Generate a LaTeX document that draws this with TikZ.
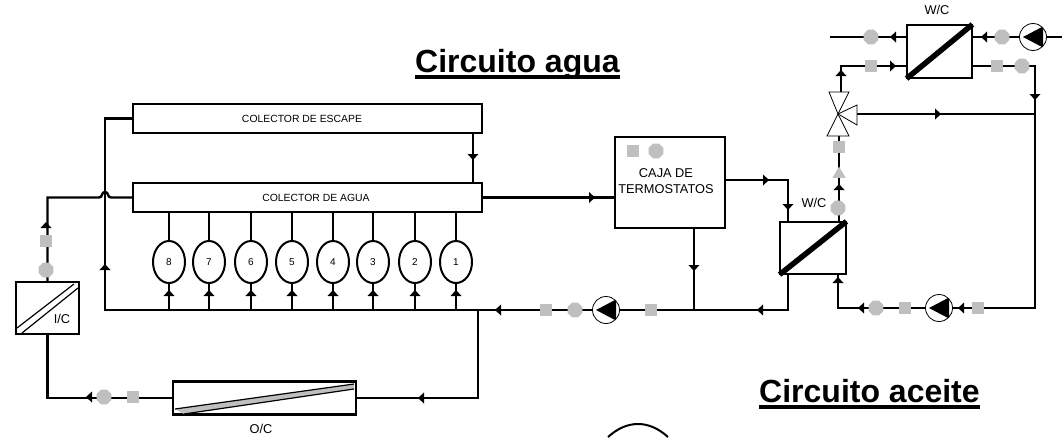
\documentclass[tikz,border=0pt]{standalone}
\usepackage{fontspec}
\setmainfont{Liberation Sans}
\usetikzlibrary{shapes.geometric}
\definecolor{omark}{HTML}{BFBFBF}
\newcommand{\flowtip}[2]{\fill[shift={(#1)},rotate=#2] (3,0) -- (-3,5.5) -- (-3,-5.5) -- cycle;}

\begin{document}
\begin{tikzpicture}[
  x=1pt,y=-1pt,
  a/.style={line width=2.4pt},
  n/.style={draw,line width=2.4pt,rectangle,inner sep=0pt},
  sq/.style={fill=omark,rectangle,minimum size=12.5pt,inner sep=0pt},
  hx/.style={fill=omark,regular polygon,regular polygon sides=8,minimum size=16pt,inner sep=0pt},
  cyl/.style={draw,line width=2pt,fill=white,ellipse,minimum width=32pt,minimum height=42pt,inner sep=0pt,font=\fontsize{10}{10}\selectfont},
  pump/.style={draw,line width=0.8pt,fill=white,circle,minimum size=27pt,inner sep=0pt,
    path picture={\fill[black] (path picture bounding box.center) ++(-10,0) -- ++(20,-10.5) -- ++(0,21) -- cycle;}},
  lab/.style={font=\fontsize{12.8}{15.5}\selectfont,inner sep=0pt,align=center},
  small/.style={font=\fontsize{10.4}{12}\selectfont,inner sep=0pt},
  ttl/.style={font=\fontsize{32}{32}\bfseries\selectfont,inner sep=0pt,anchor=base west},
  ul/.style={line width=3.6pt},
  wdiag/.style={line width=5.5pt,shorten <=1pt,shorten >=1pt}
]
\useasboundingbox (0,0) rectangle (1062,437);
\node[n,minimum width=349pt,minimum height=29pt] (esc) at (307.5,118.5) {};
\node[n,minimum width=349pt,minimum height=29pt] (agua) at (307.5,197.5) {};
\node[n,minimum width=110pt,minimum height=91pt] (caja) at (670,182.5) {};
\node[n,minimum width=66pt,minimum height=52pt] (wcl) at (813,248) {};
\node[n,minimum width=65pt,minimum height=53pt] (wcu) at (939.5,51.5) {};
\node[n,minimum width=63pt,minimum height=52pt] (ic) at (47.5,308) {};
\node[n,minimum width=183pt,minimum height=33pt] (oc) at (264.5,398) {};
\coordinate (rs) at (105,310);
\coordinate (jo) at (478,310);
\coordinate (jm) at (694,310);
\coordinate (ed) at (473,133);
\coordinate (rc) at (1035,308);
\coordinate (wlb) at (838,274);
\coordinate (vt) at (841,92);
\coordinate (vb) at (839,136);
\coordinate (vr) at (857,114);
\coordinate (vc) at (838,114);
\coordinate (te) at (830,37);
\coordinate (ts) at (1062,37);

\draw[a] ([xshift=-25pt]wcl.south) |- (rs) |- (esc.west);
\draw[a] (ed) -- (ed |- agua.north);
\draw[a] (ic.north) -- (ic.north |- agua.west) -- (99,197.5) .. controls (103,197.5) and (101,192) .. (105,192) .. controls (109,192) and (107,197.5) .. (111,197.5) -- (agua.west);
\draw[a] (ic.south) |- (oc.west);
\draw[a] (oc.east) -| (jo);
\draw[a] (agua.east) -- (agua.east -| caja.west);
\draw[a] ([yshift=2.5pt]caja.east) -| ([xshift=-25pt]wcl.north);
\draw[a] (caja.south -| jm) -- (jm);
\draw[a] ([yshift=-14.5pt]wcu.east) -| (rc) -| (wlb);
\draw[a] (rc |- vr) -- (vr);
\draw[a] (vt) |- ([yshift=-14.5pt]wcu.west);
\draw[a] (vb) -- (vb |- wcl.north);
\draw[a] (te) -- ([yshift=14.5pt]wcu.west);
\draw[a] ([yshift=14.5pt]wcu.east) -- (ts);

\foreach \c/\x in {8/169,7/209,6/251,5/292,4/333,3/373,2/415,1/456}{
  \node[cyl] (c\c) at (\x,262) {\c};
  \draw[a] (c\c |- agua.south) -- (c\c.north);
  \draw[a] (c\c.south) -- (c\c.south |- jo);
  \flowtip{\x,293}{90}
}

\draw[wdiag] (wcl.south west) -- (wcl.north east);
\draw[wdiag] (wcu.south west) -- (wcu.north east);
\draw[line width=1.2pt] (17,328) -- (74,284);
\draw[line width=1.2pt] (22,333) -- (78,288);
\fill[omark] (175,409) -- (354,384) -- (354,389) -- (184,414) -- cycle;
\draw[line width=1.2pt] (175,409) -- (354,384);
\draw[line width=1.2pt] (184,414) -- (354,389);

\draw[line width=0.8pt,fill=white] (vc) -- (829,92) -- (849,92) -- cycle;
\draw[line width=0.8pt,fill=white] (vc) -- (827,136) -- (849,136) -- cycle;
\draw[line width=0.8pt,fill=white] (vc) -- (857,105) -- (857,125) -- cycle;

\node[pump] (p1) at (606,310) {};
\node[pump] (p2) at (939,308) {};
\node[pump] (p3) at (1033,37) {};
\node[sq] (s1) at (46,241) {};
\node[hx] (h1) at (46,270) {};
\node[sq] (s2) at (133,397) {};
\node[hx] (h2) at (104,397) {};
\node[sq] (s3) at (651,310) {};
\node[hx] (h3) at (575,310) {};
\node[sq] (s4) at (546,310) {};
\node[sq] (s5) at (978,308) {};
\node[sq] (s6) at (905,308) {};
\node[hx] (h4) at (876,308) {};
\node[hx] (h5) at (838,208) {};
\node[regular polygon,regular polygon sides=3,fill=omark,minimum size=15pt,inner sep=0pt] (t1) at (839,174) {};
\node[sq] (s7) at (839,147) {};
\node[sq] (s8) at (871,66) {};
\node[hx] (h6) at (871,37) {};
\node[hx] (h7) at (1002,37) {};
\node[sq] (s9) at (997,66) {};
\node[hx] (h8) at (1022,66) {};
\node[sq] (s10) at (633,151) {};
\node[hx] (h9) at (656,151) {};

\flowtip{105,267}{90}
\flowtip{46,225}{90}
\flowtip{473,157}{-90}
\flowtip{592,197.5}{0}
\flowtip{766,180}{0}
\flowtip{788,207}{-90}
\flowtip{694,268}{-90}
\flowtip{760,310}{180}
\flowtip{498,310}{180}
\flowtip{421,398}{180}
\flowtip{89,397}{180}
\flowtip{838,280}{90}
\flowtip{861,308}{180}
\flowtip{961,308}{180}
\flowtip{1035,97}{-90}
\flowtip{938,114}{0}
\flowtip{841,73}{90}
\flowtip{893,66}{0}
\flowtip{893,37}{180}
\flowtip{984,37}{180}
\flowtip{839,187}{90}

\node[small] (tesc) at (302,119) {COLECTOR DE ESCAPE};
\node[small] (tagua) at (316,198) {COLECTOR DE AGUA};
\node[lab] (tcaja) at (666,181) {CAJA DE\\TERMOSTATOS};
\node[lab] (twu) at (937,10) {W/C};
\node[lab] (twl) at (814,203) {W/C};
\node[lab] (tic) at (62,319) {I/C};
\node[lab] (toc) at (261,429) {O/C};

\node[ttl] (ta) at (415,72) {Circuito agua};
\draw[ul] ([yshift=-5pt]ta.base west) -- ([yshift=-5pt]ta.base east);
\node[ttl] (tb) at (759,402) {Circuito aceite};
\draw[ul] ([yshift=-5pt]tb.base west) -- ([yshift=-5pt]tb.base east);

\coordinate (al) at (608,437);
\coordinate (ar) at (668,437);
\draw[line width=2pt] (al) .. controls (618,428) and (628,424) .. (638,424) .. controls (648,424) and (658,428) .. (ar);
\end{tikzpicture}
\end{document}
